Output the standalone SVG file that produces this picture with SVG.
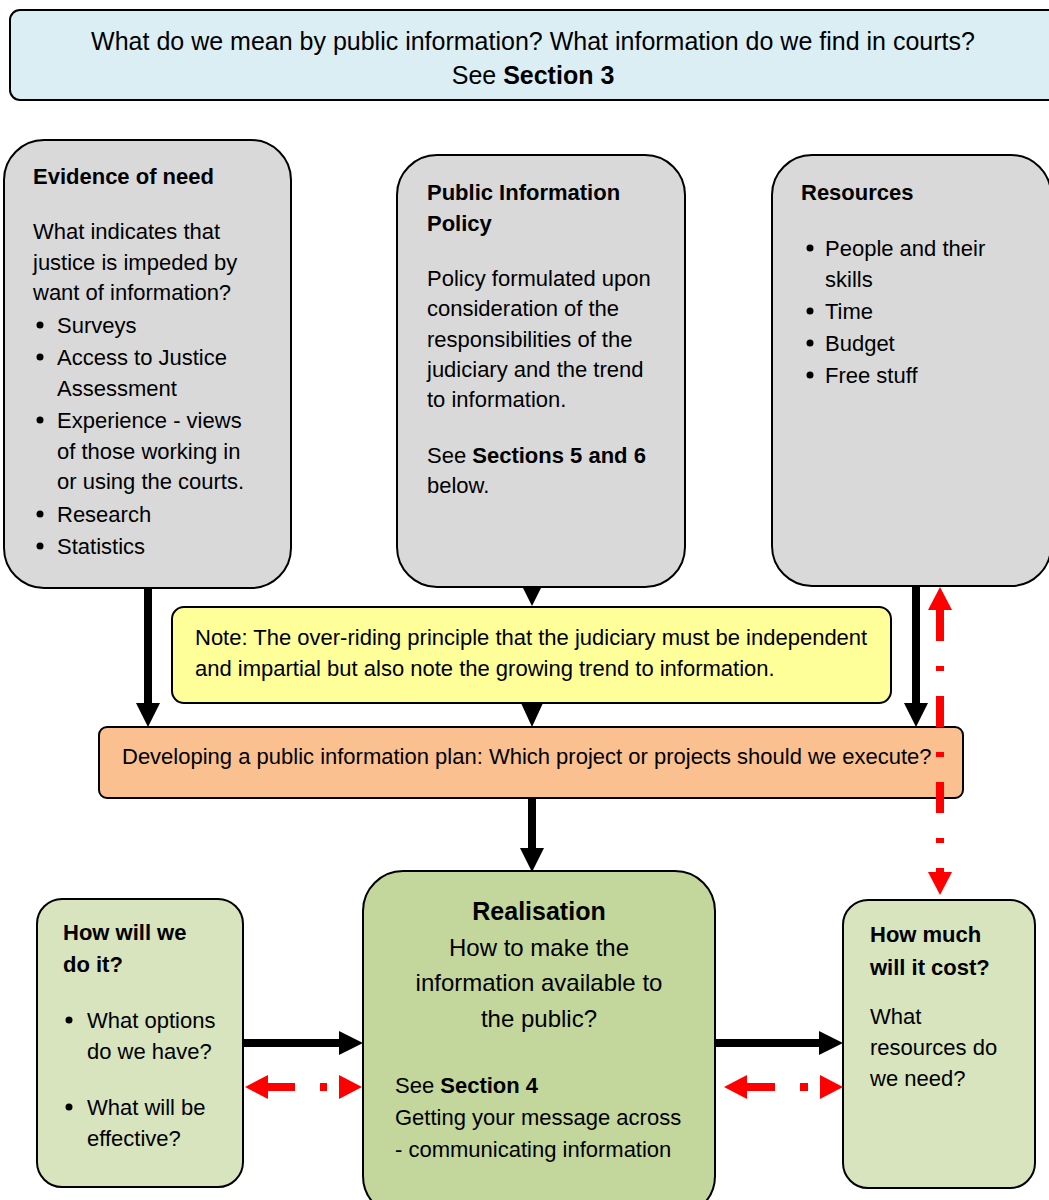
<svg xmlns="http://www.w3.org/2000/svg" width="1049" height="1200" viewBox="0 0 1049 1200">
<style>
text{font-family:"Liberation Sans",Arial,sans-serif;font-size:22px;fill:#000}
.b{font-weight:bold}
.box{stroke:#000;stroke-width:2}
.grey{fill:#D9D9D9}
.c{text-anchor:middle}
.blk{stroke:#000;stroke-width:8;fill:none}
.red{stroke:#FF0000;stroke-width:8;fill:none}
</style>
<defs>
<marker id="bh" markerUnits="userSpaceOnUse" markerWidth="24" markerHeight="24" viewBox="0 -12 24 24" refX="0" refY="0" orient="auto"><path d="M0,-12 L24,0 L0,12 z" fill="#000"/></marker>
<marker id="rh" markerUnits="userSpaceOnUse" markerWidth="23" markerHeight="24" viewBox="0 -12 23 24" refX="0" refY="0" orient="auto-start-reverse"><path d="M0,-12 L23,0 L0,12 z" fill="#FF0000"/></marker>
</defs>
<rect width="1049" height="1200" fill="#fff"/>

<g id="top">
<rect class="box" x="10" y="10" width="1060" height="90" rx="10" fill="#DBEEF4"/>
<text class="c" x="533" y="50" style="font-size:25px">What do we mean by public information? What information do we find in courts?</text>
<text class="c" x="533" y="84" style="font-size:25px">See <tspan class="b">Section 3</tspan></text>
</g>

<g id="evidence">
<rect class="box grey" x="4" y="140" width="287" height="448" rx="40"/>
<text class="b" x="33" y="184">Evidence of need</text>
<text x="33" y="239">What indicates that</text>
<text x="33" y="270">justice is impeded by</text>
<text x="33" y="300">want of information?</text>
<circle cx="40" cy="325" r="3.5"/><text x="57" y="333">Surveys</text>
<circle cx="40" cy="357" r="3.5"/><text x="57" y="365">Access to Justice</text>
<text x="57" y="396">Assessment</text>
<circle cx="40" cy="420" r="3.5"/><text x="57" y="428">Experience - views</text>
<text x="57" y="459">of those working in</text>
<text x="57" y="489">or using the courts.</text>
<circle cx="40" cy="514" r="3.5"/><text x="57" y="522">Research</text>
<circle cx="40" cy="546" r="3.5"/><text x="57" y="554">Statistics</text>
</g>

<g id="policy">
<rect class="box grey" x="397" y="155" width="288" height="432" rx="40"/>
<text class="b" x="427" y="200">Public Information</text>
<text class="b" x="427" y="231">Policy</text>
<text x="427" y="286">Policy formulated upon</text>
<text x="427" y="316">consideration of the</text>
<text x="427" y="347">responsibilities of the</text>
<text x="427" y="377">judiciary and the trend</text>
<text x="427" y="407">to information.</text>
<text x="427" y="463">See <tspan class="b">Sections 5 and 6</tspan></text>
<text x="427" y="493">below.</text>
</g>

<g id="resources">
<rect class="box grey" x="772" y="155" width="279" height="431" rx="40"/>
<text class="b" x="801" y="200">Resources</text>
<circle cx="810" cy="248" r="3.5"/><text x="825" y="256">People and their</text>
<text x="825" y="287">skills</text>
<circle cx="810" cy="311" r="3.5"/><text x="825" y="319">Time</text>
<circle cx="810" cy="343" r="3.5"/><text x="825" y="351">Budget</text>
<circle cx="810" cy="375" r="3.5"/><text x="825" y="383">Free stuff</text>
</g>

<g id="note">
<rect class="box" x="172" y="607" width="719" height="96" rx="12" fill="#FFFF99"/>
<text x="195" y="645">Note: The over-riding principle that the judiciary must be independent</text>
<text x="195" y="676">and impartial but also note the growing trend to information.</text>
</g>

<g id="plan">
<rect class="box" x="99" y="727" width="864" height="71" rx="8" fill="#FAC090"/>
<text x="122" y="764">Developing a public information plan: Which project or projects should we execute?</text>
</g>

<g id="realisation">
<rect class="box" x="363" y="871" width="352" height="345" rx="40" fill="#C3D69B"/>
<text class="b c" x="539" y="920" style="font-size:25px">Realisation</text>
<text class="c" x="539" y="956" style="font-size:24px">How to make the</text>
<text class="c" x="539" y="991" style="font-size:24px">information available to</text>
<text class="c" x="539" y="1027" style="font-size:24px">the public?</text>
<text x="395" y="1093">See <tspan class="b">Section 4</tspan></text>
<text x="395" y="1125">Getting your message across</text>
<text x="395" y="1157">- communicating information</text>
</g>

<g id="how">
<rect class="box" x="37" y="899" width="206" height="288" rx="25" fill="#D7E4BD"/>
<text class="b" x="63" y="940">How will we</text>
<text class="b" x="63" y="972">do it?</text>
<circle cx="69" cy="1020" r="3.5"/><text x="87" y="1028">What options</text>
<text x="87" y="1059">do we have?</text>
<circle cx="69" cy="1107" r="3.5"/><text x="87" y="1115">What will be</text>
<text x="87" y="1146">effective?</text>
</g>

<g id="cost">
<rect class="box" x="843" y="900" width="192" height="288" rx="25" fill="#D7E4BD"/>
<text class="b" x="870" y="942">How much</text>
<text class="b" x="870" y="975">will it cost?</text>
<text x="870" y="1024">What</text>
<text x="870" y="1055">resources do</text>
<text x="870" y="1086">we need?</text>
</g>

<g id="connectors">
<line class="blk" x1="148" y1="588" x2="148" y2="703" marker-end="url(#bh)"/>
<line class="blk" x1="916" y1="586" x2="916" y2="703" marker-end="url(#bh)"/>
<polygon points="523,588 541,588 532,606" fill="#000"/>
<polygon points="521,703 543,703 532,727" fill="#000"/>
<line class="blk" x1="532" y1="798" x2="532" y2="848" marker-end="url(#bh)"/>
<line class="blk" x1="243" y1="1043" x2="339" y2="1043" marker-end="url(#bh)"/>
<line class="blk" x1="715" y1="1043" x2="819" y2="1043" marker-end="url(#bh)"/>
<line class="red" x1="940" y1="610" x2="940" y2="872" stroke-dasharray="31 25 5 25" marker-start="url(#rh)" marker-end="url(#rh)"/>
<line class="red" x1="268" y1="1087" x2="339" y2="1087" stroke-dasharray="27 25 7 20" marker-start="url(#rh)" marker-end="url(#rh)"/>
<line class="red" x1="747" y1="1087" x2="820" y2="1087" stroke-dasharray="28 25 8 20" marker-start="url(#rh)" marker-end="url(#rh)"/>
</g>
</svg>
